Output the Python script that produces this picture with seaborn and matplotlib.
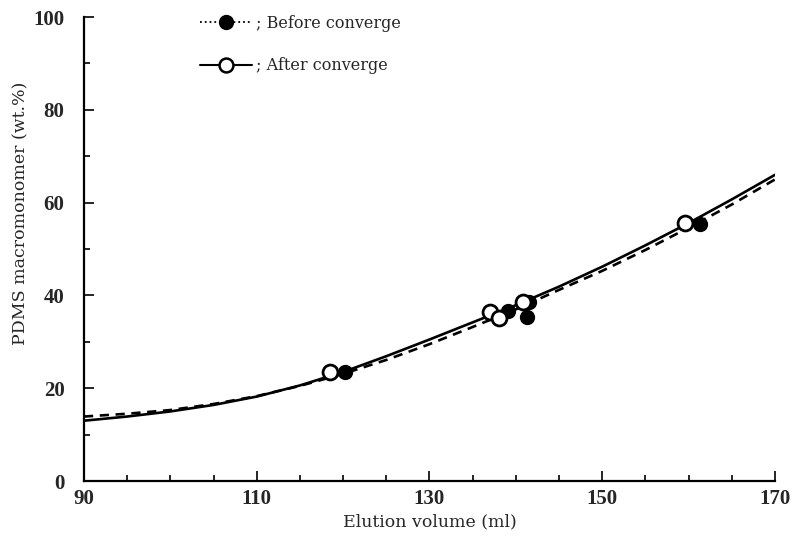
import matplotlib
matplotlib.use("Agg")
import matplotlib.pyplot as plt
from matplotlib.lines import Line2D
from matplotlib.ticker import MultipleLocator
import seaborn as sns
import pandas as pd

# Curve values
curve_x = [90, 95, 100, 105, 110, 115, 120, 125, 130, 135, 140, 145, 150, 155, 160, 165, 170]
after_curve = [13.0, 13.9, 15.0, 16.4, 18.2, 20.6, 23.5, 26.9, 30.5, 34.2, 37.9, 41.9, 46.2, 50.8, 55.6, 60.7, 66.0]
before_curve = [13.9, 14.5, 15.3, 16.6, 18.3, 20.5, 23.1, 26.1, 29.5, 33.2, 37.0, 41.2, 45.3, 49.8, 54.6, 59.6, 65.0]

# Data points
before_x = [120.2, 139.1, 141.3, 141.5, 161.3]
before_y = [23.5, 36.6, 35.3, 38.5, 55.4]
after_x = [118.5, 137.0, 138.1, 140.8, 159.6]
after_y = [23.5, 36.4, 35.1, 38.6, 55.6]

x_ticks = [90, 110, 130, 150, 170]
y_ticks = [0, 20, 40, 60, 80, 100]

sns.set_style("ticks")
plt.rcParams['font.family'] = ['DejaVu Serif']

fig = plt.figure(figsize=(7.92, 5.51), dpi=100)
ax = fig.add_axes([0.106, 0.127, 0.8725, 0.842])

df_a = pd.DataFrame({"x": curve_x, "y": after_curve})
df_b = pd.DataFrame({"x": curve_x, "y": before_curve})
sns.lineplot(data=df_a, x="x", y="y", ax=ax, color="black", lw=1.9, sort=True)
sns.lineplot(data=df_b, x="x", y="y", ax=ax, color="black", lw=1.9, sort=True)
ax.lines[-1].set_linestyle((0, (3.5, 2.5)))

dp_b = pd.DataFrame({"x": before_x, "y": before_y})
dp_a = pd.DataFrame({"x": after_x, "y": after_y})
sns.scatterplot(data=dp_b, x="x", y="y", ax=ax, color="black", s=100, edgecolor="black", linewidth=1, zorder=3)
sns.scatterplot(data=dp_a, x="x", y="y", ax=ax, facecolor="white", s=115, edgecolor="black", linewidth=2.0, zorder=4)

ax.set_xlim(90, 170)
ax.set_ylim(0, 100)
ax.set_xticks(x_ticks)
ax.set_yticks(y_ticks)
ax.xaxis.set_minor_locator(MultipleLocator(5))
ax.yaxis.set_minor_locator(MultipleLocator(10))
ax.tick_params(which="both", direction="in", color="black", width=1.2)
ax.tick_params(which="major", length=7, labelsize=15)
ax.tick_params(axis="x", which="major", pad=6)
ax.tick_params(axis="y", which="major", pad=14)
ax.tick_params(which="minor", length=4)
for lab in ax.get_xticklabels() + ax.get_yticklabels():
    lab.set_fontweight("bold")
    lab.set_fontfamily("Liberation Serif")
for s in ["top", "right"]:
    ax.spines[s].set_visible(False)
for s in ["left", "bottom"]:
    ax.spines[s].set_linewidth(1.6)
    ax.spines[s].set_color("black")

ax.set_xlabel("Elution volume (ml)", fontsize=12.5, labelpad=3)
ax.set_ylabel("PDMS macromonomer (wt.%)", fontsize=12.5)
ax.yaxis.set_label_coords(-0.079, 0.578)

h1 = Line2D([], [], color="black", ls=":", lw=1.3, marker="o", markersize=10,
            markerfacecolor="black", markeredgecolor="black")
h2 = Line2D([], [], color="black", ls="-", lw=1.5, marker="o", markersize=10,
            markerfacecolor="white", markeredgecolor="black", markeredgewidth=1.8)
leg = ax.legend([h1, h2], ["; Before converge", "; After converge"],
                loc="upper left", bbox_to_anchor=(0.234, 0.999), bbox_transform=fig.transFigure,
                frameon=False, fontsize=11.5, handlelength=3.3, handletextpad=0.2,
                labelspacing=1.6)

fig.savefig("out.png", dpi=100)
